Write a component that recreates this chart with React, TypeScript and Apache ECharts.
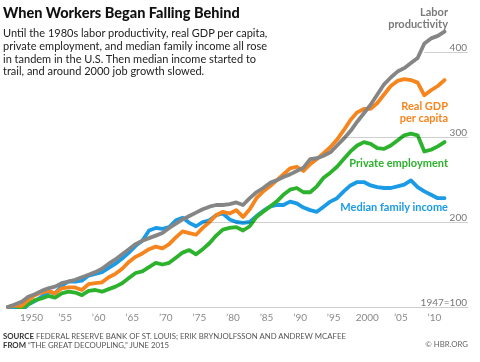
import React, { useEffect, useRef } from "react";
import * as echarts from "echarts";

const years: number[] = [];
for (let y = 1947; y <= 2012; y++) years.push(y);

const laborProductivity = [
  100, 103, 106, 112, 115, 119, 122, 124, 128, 130,
  132, 135, 138, 141, 145, 151, 156, 162, 168, 174,
  178, 181, 184, 187, 193, 198, 203, 207, 211, 215,
  218, 220, 220, 221, 223, 220, 228, 235, 240, 246,
  249, 253, 256, 260, 264, 274, 275, 278, 282, 290,
  298, 307, 318, 328, 338, 350, 362, 370, 377, 381,
  387, 393, 410, 416, 419, 424,
];
const realGdpPerCapita = [
  100, 102, 101, 108, 114, 117, 119, 116, 122, 123,
  123, 120, 127, 128, 129, 135, 139, 145, 153, 159,
  163, 168, 171, 169, 174, 182, 189, 187, 185, 193,
  200, 208, 212, 210, 214, 206, 215, 228, 236, 242,
  249, 256, 263, 265, 260, 268, 274, 281, 288, 297,
  308, 320, 329, 333, 333, 340, 350, 360, 366, 368,
  367, 364, 349, 355, 360, 367,
];
const privateEmployment = [
  100, 102, 98, 103, 108, 110, 113, 111, 116, 118,
  117, 114, 119, 120, 118, 121, 124, 128, 134, 140,
  142, 147, 152, 150, 152, 158, 164, 167, 162, 168,
  175, 184, 191, 193, 194, 190, 195, 206, 212, 218,
  224, 232, 238, 240, 235, 235, 242, 252, 258, 265,
  274, 283, 290, 294, 292, 287, 286, 290, 296, 302,
  304, 302, 283, 285, 289, 294,
];
const medianFamilyIncome = [
  100, 98, 95, 103, 107, 112, 118, 116, 125, 130,
  130, 131, 137, 139, 141, 146, 151, 157, 164, 172,
  178, 190, 193, 192, 194, 202, 205, 199, 195, 200,
  202, 208, 210, 203, 200, 199, 200, 207, 213, 218,
  220, 220, 224, 222, 217, 214, 212, 218, 224, 228,
  236, 243, 247, 247, 243, 241, 240, 240, 242, 244,
  249, 241, 236, 232, 228, 228,
];

const xTickYears = [1950, 1955, 1960, 1965, 1970, 1975, 1980, 1985, 1990, 1995, 2000, 2005, 2010];
const yTickValues = [100, 200, 300, 400];
const gridLineStarts = [
  { value: 200, from: 1976 },
  { value: 300, from: 1996.8 },
  { value: 400, from: 2009 },
];

const GRAY = "#858585";
const ORANGE = "#f7851e";
const GREEN = "#2db22d";
const BLUE = "#1b9be6";

const FONT = "Lato, 'Open Sans', sans-serif";

export default function App() {
  const ref = useRef<HTMLDivElement>(null);
  useEffect(() => {
    if (!ref.current) return;
    const chart = echarts.init(ref.current, null, { renderer: "svg" });
    const pairs = (vals: number[]) => years.map((y, i) => [y, vals[i]]);
    const lineSeries = (name: string, vals: number[], color: string) => ({
      name,
      type: "line",
      data: pairs(vals),
      showSymbol: false,
      symbol: "none",
      z: 3,
      lineStyle: { color, width: 3.8, cap: "round", join: "round" },
      itemStyle: { color },
      emphasis: { disabled: true },
    });
    chart.setOption({
      animation: false,
      backgroundColor: "#ffffff",
      textStyle: { fontFamily: FONT },
      grid: { left: 8, right: 12, top: 9.5, bottom: 55, containLabel: false },
      xAxis: {
        type: "value",
        min: 1947,
        max: 2015.5,
        axisLine: { show: true, lineStyle: { color: "#cfcfcf", width: 1 } },
        axisTick: { show: false },
        splitLine: { show: false },
        axisLabel: {
          customValues: xTickYears.map((y) => y + 0.5),
          margin: 5,
          color: "#8a8a8a",
          fontSize: 10,
          fontFamily: FONT,
          formatter: (v: number) => {
            const y = Math.floor(v);
            if (y === 1950 || y === 2000) return String(y);
            return "\u2019" + String(y).slice(2);
          },
        },
      },
      yAxis: {
        type: "value",
        min: 100,
        max: 450,
        position: "right",
        axisLine: { show: false },
        axisTick: { show: false },
        splitLine: { show: false },
        axisLabel: {
          inside: true,
          customValues: yTickValues,
          margin: 1,
          align: "right",
          verticalAlign: "bottom",
          color: "#777",
          fontSize: 10,
          fontFamily: FONT,
          formatter: (v: number) => (v === 100 ? "1947=100" : String(v)),
        },
      },
      series: [
        {
          name: "grid",
          type: "line",
          data: [],
          z: 1,
          silent: true,
          markLine: {
            silent: true,
            symbol: ["none", "none"],
            label: { show: false },
            lineStyle: { color: "#d0d0d0", width: 1, type: "solid" },
            data: gridLineStarts.map((g) => [
              { coord: [g.from, g.value] },
              { coord: [2015.5, g.value] },
            ]),
          },
        },
        lineSeries("Median family income", medianFamilyIncome, BLUE),
        lineSeries("Private employment", privateEmployment, GREEN),
        lineSeries("Real GDP per capita", realGdpPerCapita, ORANGE),
        lineSeries("Labor productivity", laborProductivity, GRAY),
      ],
      graphic: [
        {
          type: "text",
          left: 3,
          top: 5,
          style: {
            text: "When Workers Began Falling Behind",
            font: `900 14.5px ${FONT}`,
            fill: "#111",
          },
        },
        {
          type: "text",
          left: 3,
          top: 26,
          style: {
            text:
              "Until the 1980s labor productivity, real GDP per capita,\nprivate employment, and median family income all rose\nin tandem in the U.S. Then median income started to\ntrail, and around 2000 job growth slowed.",
            font: `11px ${FONT}`,
            lineHeight: 12.8,
            fill: "#222",
          },
        },
        {
          type: "text",
          x: 448,
          y: 5,
          style: {
            text: "Labor\nproductivity",
            font: `bold 11px ${FONT}`,
            lineHeight: 12,
            align: "right",
            fill: "#7a7a7a",
          },
        },
        {
          type: "text",
          x: 448,
          y: 99,
          style: {
            text: "Real GDP\nper capita",
            font: `bold 11px ${FONT}`,
            lineHeight: 12,
            align: "right",
            fill: ORANGE,
          },
        },
        {
          type: "text",
          x: 448,
          y: 157,
          style: {
            text: "Private employment",
            font: `bold 11px ${FONT}`,
            align: "right",
            fill: GREEN,
          },
        },
        {
          type: "text",
          x: 448,
          y: 201,
          style: {
            text: "Median family income",
            font: `bold 11px ${FONT}`,
            align: "right",
            fill: BLUE,
          },
        },
        {
          type: "text",
          left: 3,
          top: 332,
          style: {
            text:
              "{b|SOURCE} FEDERAL RESERVE BANK OF ST. LOUIS; ERIK BRYNJOLFSSON AND ANDREW MCAFEE\n{b|FROM} \u201CTHE GREAT DECOUPLING,\u201D JUNE 2015",
            font: `7.8px ${FONT}`,
            lineHeight: 8.5,
            fill: "#555",
            rich: {
              b: { fontWeight: "bold", fontSize: 7.8, fill: "#333", fontFamily: FONT },
            },
          },
        },
        {
          type: "text",
          right: 12,
          top: 340,
          style: {
            text: "\u00A9 HBR.ORG",
            font: `7.8px ${FONT}`,
            fill: "#666",
          },
        },
      ],
    });
    return () => chart.dispose();
  }, []);
  return (
    <div style={{ position: "fixed", left: 0, top: 0, width: 480, height: 362 }}>
      <style>{`#hbr-chart svg path { mix-blend-mode: multiply; }`}</style>
      <div id="hbr-chart" ref={ref} style={{ width: 480, height: 362 }} />
    </div>
  );
}
